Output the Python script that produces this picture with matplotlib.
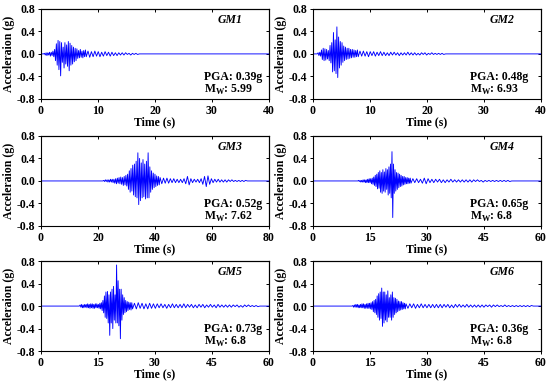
import numpy as np
import matplotlib
matplotlib.use("Agg")
import matplotlib.pyplot as plt

plt.rcParams['font.family'] = ['Liberation Serif', 'DejaVu Serif']
plt.rcParams['font.weight'] = 'bold'
plt.rcParams['axes.unicode_minus'] = False

# ground motion records (start time, sample step, values)
gm1_start, gm1_dt, gm1_tail_dt = 0.6, 0.15, 0.3
gm1_main = [0.01, -0.02, 0.02, -0.03, 0.02, -0.02, 0.03, -0.04, 0.03, -0.03, 0.05, -0.05,
            0.08, -0.12, 0.18, -0.2, 0.24, -0.28, 0.22, -0.39, 0.2, -0.15, 0.12, -0.25, 0.2,
            -0.18, 0.16, -0.22, 0.22, -0.3, 0.19, -0.2, 0.15, -0.18, 0.12, -0.14, 0.1, -0.12,
            0.09, -0.08, 0.06,
            -0.07, 0.08, -0.06, 0.05, -0.07, 0.06, -0.05, 0.07, -0.05]
gm1_tail = [0.05, -0.06, 0.04, -0.05, 0.05, -0.04, 0.04, -0.05, 0.03, -0.04, 0.04, -0.03,
            0.03, -0.04, 0.03, -0.03, 0.02, -0.03, 0.02, -0.02, 0.02, -0.02, 0.02, -0.01,
            0.01, -0.02, 0.01, -0.01, 0.01, -0.01]

gm2_start, gm2_dt, gm2_tail_dt = 0.9, 0.15, 0.3
gm2_main = [0.02, -0.03, 0.03, -0.04,
            0.07, -0.1, 0.1, -0.12, 0.09, -0.11, 0.08, -0.09, 0.06,
            -0.12, 0.15, -0.16,
            0.2, -0.32, 0.38, -0.3, 0.25, -0.35, 0.48, -0.42, 0.3, -0.25, 0.22, -0.2, 0.2,
            -0.15, 0.14, -0.12, 0.12, -0.1, 0.1, -0.09, 0.1, -0.08, 0.08, -0.07, 0.08, -0.06,
            0.07, -0.06, 0.06, -0.05, 0.07, -0.05]
gm2_tail = [0.05, -0.04, 0.05, -0.04, 0.04, -0.05, 0.04, -0.03, 0.04, -0.04, 0.03, -0.03,
            0.04, -0.03, 0.03, -0.03, 0.02, -0.03, 0.03, -0.02, 0.03, -0.02, 0.02, -0.03,
            0.02, -0.02, 0.02, -0.02, 0.03, -0.02, 0.02, -0.02, 0.02, -0.02, 0.01, -0.02,
            0.02, -0.01, 0.02, -0.02, 0.01, -0.01, 0.02, -0.01, 0.01, -0.01, 0.01, -0.01,
            0.01, -0.01]

gm3_start, gm3_dt, gm3_tail_dt = 22.0, 0.3, 0.6
gm3_main = [0.01, -0.01, 0.02, -0.01, 0.02, -0.02, 0.02, -0.02, 0.03, -0.02, 0.03, -0.03, 0.03,
            -0.04, 0.04, -0.05, 0.05, -0.04, 0.06, -0.05, 0.07, -0.06, 0.06, -0.08, 0.08,
            -0.07, 0.1, -0.09,
            0.12, -0.15, 0.18, -0.2, 0.22, -0.18, 0.28, -0.25, 0.3, -0.28,
            0.35, -0.3, 0.5, -0.42, 0.4, -0.35, 0.32, -0.3, 0.38, -0.28, 0.3, -0.32, 0.35,
            -0.3, 0.5, -0.3, 0.25,
            -0.2, 0.18, -0.15, 0.14, -0.12, 0.12, -0.1, 0.09, -0.08, 0.08, -0.07, 0.06]
gm3_tail = [-0.05, 0.05, -0.04, 0.05, -0.04, 0.04, -0.03, 0.04, -0.03, 0.03, -0.03, 0.03,
            -0.03, 0.04, -0.05, 0.08, -0.07, 0.04, -0.03, 0.03, -0.02, 0.03, -0.03, 0.04,
            -0.06, 0.08, -0.1, 0.09, -0.06, 0.04, -0.03, 0.03, -0.02, 0.03, -0.02, 0.02,
            -0.02, 0.02, -0.02, 0.02, -0.01, 0.02, -0.01, 0.01, -0.01, 0.01, -0.01, 0.01,
            -0.01, 0.01]

gm4_start, gm4_dt, gm4_tail_dt = 12.0, 0.2, 0.5
gm4_main = [0.01, -0.01, 0.01, -0.02, 0.01, -0.02, 0.02, -0.02, 0.02, -0.03, 0.02, -0.03,
            0.03, -0.03, 0.04, -0.03, 0.04, -0.05, 0.05, -0.06,
            0.07, -0.08, 0.1, -0.1, 0.12, -0.14, 0.15, -0.13,
            0.18, -0.2, 0.15, -0.22, 0.2, -0.18, 0.16, -0.2, 0.22, -0.15,
            0.2, -0.25, 0.25, -0.22, 0.3,
            -0.3, 0.52, -0.65,
            0.3, -0.22, 0.2, -0.18, 0.15, -0.15, 0.14,
            -0.12, 0.12, -0.1, 0.1, -0.09, 0.08, -0.07, 0.08, -0.06, 0.06, -0.05, 0.06,
            -0.05, 0.05, -0.04, 0.05, -0.04]
gm4_tail = [0.04, -0.03, 0.04, -0.03, 0.03, -0.04, 0.05, -0.05, 0.04, -0.03, 0.03, -0.03,
            0.03, -0.02, 0.03, -0.03, 0.02, -0.03, 0.02, -0.02, 0.03, -0.02, 0.02, -0.02,
            0.02, -0.02, 0.02, -0.02, 0.02, -0.02, 0.02, -0.02, 0.02, -0.01, 0.02, -0.01,
            0.01, -0.02, 0.01, -0.01, 0.01, -0.01, 0.01, -0.01, 0.01, -0.01, 0.01, -0.01,
            0.01, -0.01, 0.01, -0.01]

gm5_start, gm5_dt, gm5_tail_dt = 10.3, 0.2, 0.5
gm5_main = [0.02, -0.02, 0.03, -0.03, 0.02, -0.03, 0.03, -0.02, 0.03, -0.03, 0.04, -0.03,
            0.03, -0.04, 0.04, -0.03, 0.04, -0.04, 0.03, -0.04, 0.04, -0.03, 0.04, -0.03,
            0.03, -0.04, 0.05, -0.05, 0.06,
            -0.08, 0.1, -0.12, 0.18, -0.2, 0.25, -0.22, 0.26, -0.3, 0.2,
            -0.52, 0.25, -0.3, 0.3, -0.4, 0.35, -0.25, 0.2, -0.3,
            0.73, -0.3, 0.45, -0.35, 0.3, -0.58, 0.3, -0.25, 0.2,
            -0.15, 0.15, -0.12, 0.1, -0.1, 0.08, -0.08, 0.07, -0.06, 0.06, -0.07, 0.06, -0.05]
gm5_tail = [0.05, -0.05, 0.06, -0.04, 0.05, -0.05, 0.04, -0.05, 0.05, -0.04, 0.04, -0.04,
            0.04, -0.03, 0.04, -0.03, 0.03, -0.04, 0.03, -0.03, 0.04, -0.03, 0.03, -0.03,
            0.03, -0.03, 0.04, -0.03, 0.03, -0.02,
            0.03, -0.03, 0.02, -0.03, 0.03, -0.02, 0.03, -0.03, 0.02, -0.02, 0.03, -0.02,
            0.02, -0.03, 0.03, -0.02, 0.02, -0.02, 0.02, -0.02,
            0.02, -0.02, 0.02, -0.01, 0.02, -0.02, 0.01, -0.02, 0.02, -0.01, 0.02, -0.01,
            0.01, -0.01, 0.01, -0.01]

gm6_start, gm6_dt, gm6_tail_dt = 10.5, 0.2, 0.5
gm6_main = [0.01, -0.02, 0.02, -0.02, 0.03, -0.02, 0.03, -0.03, 0.02, -0.03, 0.03, -0.03,
            0.04, -0.03, 0.04, -0.04, 0.03, -0.04, 0.04, -0.04, 0.05, -0.04, 0.05, -0.05,
            0.06, -0.06,
            0.08, -0.1, 0.1, -0.12, 0.12, -0.15, 0.18,
            -0.2, 0.22, -0.25, 0.25, -0.22, 0.32, -0.36, 0.25, -0.3, 0.25, -0.25, 0.2, -0.28,
            0.27, -0.2, 0.15, -0.2, 0.2, -0.25, 0.25, -0.2, 0.15, -0.15, 0.14, -0.12, 0.12,
            -0.1, 0.09, -0.08, 0.08, -0.07, 0.08, -0.06, 0.06, -0.05, 0.05, -0.05, 0.04]
gm6_tail = [-0.04, 0.04, -0.03, 0.04, -0.04, 0.03, -0.03, 0.04, -0.03, 0.03, -0.03, 0.03,
            -0.03, 0.03, -0.03, 0.03, -0.03, 0.03, -0.03, 0.03, -0.02, 0.03, -0.03, 0.02,
            -0.03, 0.03, -0.02, 0.03, -0.02, 0.02, -0.02, 0.03, -0.02, 0.02, -0.02, 0.02,
            -0.02, 0.02, -0.02, 0.02, -0.02, 0.02, -0.01, 0.02, -0.02, 0.02, -0.01, 0.02,
            -0.01, 0.01, -0.01, 0.02, -0.01, 0.01, -0.01, 0.01, -0.01, 0.01, -0.01, 0.01,
            -0.01, 0.01, -0.01, 0.01, -0.01, 0.01]

records = [
    (gm1_start, gm1_dt, gm1_main, gm1_tail_dt, gm1_tail),
    (gm2_start, gm2_dt, gm2_main, gm2_tail_dt, gm2_tail),
    (gm3_start, gm3_dt, gm3_main, gm3_tail_dt, gm3_tail),
    (gm4_start, gm4_dt, gm4_main, gm4_tail_dt, gm4_tail),
    (gm5_start, gm5_dt, gm5_main, gm5_tail_dt, gm5_tail),
    (gm6_start, gm6_dt, gm6_main, gm6_tail_dt, gm6_tail),
]

gm_names = ['GM1', 'GM2', 'GM3', 'GM4', 'GM5', 'GM6']
gm_pga = ['0.39g', '0.48g', '0.52g', '0.65g', '0.73g', '0.36g']
gm_mw = ['5.99', '6.93', '7.62', '6.8', '6.8', '6.8']
x_max = [40, 40, 80, 60, 60, 60]
x_step = [10, 10, 20, 15, 15, 15]
y_ticks = [-0.8, -0.4, 0.0, 0.4, 0.8]


def series(start, dt, main, tail_dt, tail, end):
    t_main = start + dt * np.arange(len(main))
    t_tail = t_main[-1] + tail_dt * np.arange(1, len(tail) + 1)
    t = np.concatenate([[0.0, start - dt], t_main, t_tail, [t_tail[-1] + tail_dt, end]])
    a = np.concatenate([[0.0, 0.0], main, tail, [0.0, 0.0]])
    return t, a


fig = plt.figure(figsize=(5.5, 3.85), dpi=100)
lefts = [0.0745, 0.569]
bottoms = [0.743, 0.413, 0.088]
w, h = 0.4145, 0.234

for i in range(6):
    ax = fig.add_axes([lefts[i % 2], bottoms[i // 2], w, h])
    t, a = series(*records[i], x_max[i])
    ax.plot(t, a, color='#0000ff', lw=0.65)
    ax.set_xlim(0, x_max[i])
    ax.set_ylim(-0.8, 0.8)
    xt = np.arange(0, x_max[i] + 1, x_step[i])
    ax.set_xticks(xt)
    ax.set_yticks(y_ticks)
    ax.set_yticklabels(['%.1f' % v for v in y_ticks])
    ax.tick_params(direction='out', length=2.5, width=0.7, labelsize=8.5, pad=1.5)
    for lab in ax.get_xticklabels() + ax.get_yticklabels():
        lab.set_fontweight('bold')
    top = ax.secondary_xaxis('top')
    top.set_xticks(xt)
    top.tick_params(direction='in', length=2.5, width=0.7, labeltop=False)
    right = ax.secondary_yaxis('right')
    right.set_yticks(y_ticks)
    right.tick_params(direction='in', length=2.5, width=0.7, labelright=False)
    for sp in ax.spines.values():
        sp.set_linewidth(0.8)
    ax.set_xlabel('Time (s)', fontsize=8.5, fontweight='bold', labelpad=-0.5)
    ax.set_ylabel('Acceleraion (g)', fontsize=8.5, fontweight='bold', labelpad=1.5)
    ax.text(0.83, 0.875, gm_names[i], transform=ax.transAxes, ha='center', va='center',
            fontsize=8.5, fontweight='bold', style='italic')
    tx = 0.715 if i % 2 == 0 else 0.69
    ax.text(tx, 0.245, 'PGA: ' + gm_pga[i], transform=ax.transAxes, ha='left', va='center',
            fontsize=8.5, fontweight='bold')
    ax.text(tx, 0.10, r'M$_\mathregular{W}$: ' + gm_mw[i], transform=ax.transAxes,
            ha='left', va='center', fontsize=8.5, fontweight='bold')

fig.savefig('out.png', dpi=100)
